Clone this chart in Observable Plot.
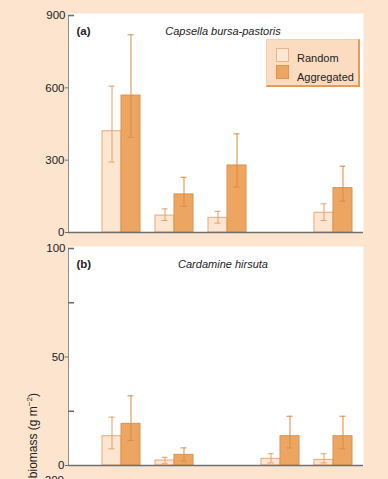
<!DOCTYPE html>
<html>
<head>
<meta charset="utf-8">
<script src="https://cdn.jsdelivr.net/npm/d3@7"></script>
<script src="https://cdn.jsdelivr.net/npm/@observablehq/plot@0.6"></script>
<style>
  html, body { margin: 0; padding: 0; background: #fce4cf; }
  #wrap { position: relative; width: 388px; height: 479px; overflow: hidden; background: #fce4cf;
          font-family: "Liberation Sans", Arial, sans-serif; color: #222; }
  .panel { position: absolute; left: 0; }
  .panel svg { background: transparent !important; overflow: visible; }
  .panel svg g[aria-label^="y-axis"] { font-size: 11.5px !important; }
  .panel svg g[aria-label^="y-axis"] text { font-size: 11.5px !important; fill: #222 !important; }
  .panel svg g[aria-label="y-axis tick"] path, .panel svg g[aria-label="y-axis tick"] { stroke: #6f6f6f; }
  .panel svg [aria-label="y-axis line"] { stroke: #6f6f6f; stroke-width: 1.6; }
  #legend { position: absolute; left: 266px; top: 39px; width: 91px; height: 45px; background: #fbdcc0;
            border-top: 1px solid #f6cfa8; border-left: 1px solid #f6cfa8;
            border-right: 2px solid #e59a55; border-bottom: 2px solid #e59a55; }
  .sw { position: absolute; left: 9px; width: 11px; height: 12px; }
  .lt { position: absolute; left: 30px; font-size: 11px; line-height: 13px; white-space: nowrap; color: #222; }
  #ylab { position: absolute; left: 26px; top: 393px; transform-origin: 0 0;
          transform: rotate(-90deg) translateX(-100%); font-size: 12px; line-height: 14px; white-space: nowrap; color: #222; }
  #ylab sup { font-size: 8px; line-height: 0; }
  #cut { position: absolute; right: 324px; top: 475px; font-size: 11.5px; line-height: 11px; color: #222; }
</style>
</head>
<body>
<div id="wrap">
  <div id="pa" class="panel" style="top:0px"></div>
  <div id="pb" class="panel" style="top:233px"></div>
  <div id="legend">
    <div class="sw" style="top:8px;background:#fde8d5;border:1px solid #eab48a"></div>
    <div class="lt" style="top:12px">Random</div>
    <div class="sw" style="top:25px;background:#eca662;border:1px solid #df9752"></div>
    <div class="lt" style="top:31px">Aggregated</div>
  </div>
  <div id="ylab">biomass (g m<sup>−2</sup>)</div>
  <div id="cut">200</div>
</div>
<script>
// ---- data ----
const groups = [1, 2, 3, 4, 5];
const treatments = ["Random", "Aggregated"];

// (a) Capsella bursa-pastoris
const capsellaRandom    = [420, 70, 61, null, 82];
const capsellaRandomLo  = [292, 50, 39, null, 50];
const capsellaRandomHi  = [607, 98, 88, null, 119];
const capsellaAgg       = [568, 158, 278, null, 184];
const capsellaAggLo     = [395, 109, 188, null, 130];
const capsellaAggHi     = [820, 229, 409, null, 275];

// (b) Cardamine hirsuta
const cardamineRandom   = [13.5, 2.3, null, 3.1, 2.6];
const cardamineRandomLo = [7.7, 0.8, null, 1.2, 1.2];
const cardamineRandomHi = [22.3, 3.8, null, 5.4, 5.4];
const cardamineAgg      = [19.2, 4.9, null, 13.5, 13.5];
const cardamineAggLo    = [11.5, 2.0, null, 8.1, 7.7];
const cardamineAggHi    = [32.1, 8.1, null, 22.7, 22.7];

const ticksA = [0, 300, 600, 900];
const ticksB = [0, 50, 100];
const minorB = [25, 75];

const panelA = { tag: "(a)", title: "Capsella bursa-pastoris", domain: [0, 900] };
const panelB = { tag: "(b)", title: "Cardamine hirsuta", domain: [0, 100] };

// ---- helpers ----
function rows(vals, lo, hi) {
  return groups.map((g, i) => ({ g, v: vals[i], lo: lo[i], hi: hi[i] })).filter(d => d.v != null);
}

const W = 388, ML = 68, MR = 25;
const randFill = "#fde6d1", randStroke = "#eaa872";
const aggFill = "#eca662", aggStroke = "#dc9150";
const errRand = "#e3a06a", errAgg = "#d98c48";

function panel(cfg, rnd, agg, ticks, minor, height, mt, mb) {
  const frameW = W - ML - MR;
  const top = ticks[ticks.length - 1];
  return Plot.plot({
    width: W, height, marginLeft: ML, marginRight: MR, marginTop: mt, marginBottom: mb,
    style: { fontFamily: "'Liberation Sans', Arial, sans-serif", fontSize: "11.5px", color: "#222", background: "transparent" },
    x: { type: "band", domain: groups, range: [94.5, 359.5], paddingInner: 0.283, paddingOuter: 0.1415, axis: null },
    y: { domain: cfg.domain, ticks: ticks.slice(0, -1), tickSize: 3, tickPadding: 1, label: null, line: true },
    marks: [
      Plot.frame({ fill: "white", stroke: null, insetTop: -2 }),
      Plot.barY(rnd, { x: "g", y: "v", insetRight: 19, fill: randFill, stroke: randStroke, strokeWidth: 1 }),
      Plot.barY(agg, { x: "g", y: "v", insetLeft: 19, fill: aggFill, stroke: aggStroke, strokeWidth: 1 }),
      Plot.ruleX(rnd, { x: "g", y1: "lo", y2: "hi", dx: -9.5, stroke: errRand, strokeWidth: 1 }),
      Plot.tickY(rnd, { x: "g", y: "hi", insetLeft: 6.5, insetRight: 25.5, stroke: errRand, strokeWidth: 1 }),
      Plot.tickY(rnd, { x: "g", y: "lo", insetLeft: 6.5, insetRight: 25.5, stroke: errRand, strokeWidth: 1 }),
      Plot.ruleX(agg, { x: "g", y1: "lo", y2: "hi", dx: 9.5, stroke: errAgg, strokeWidth: 1 }),
      Plot.tickY(agg, { x: "g", y: "hi", insetLeft: 25.5, insetRight: 6.5, stroke: errAgg, strokeWidth: 1 }),
      Plot.tickY(agg, { x: "g", y: "lo", insetLeft: 25.5, insetRight: 6.5, stroke: errAgg, strokeWidth: 1 }),
      Plot.tickY([...minor, top], { insetRight: frameW - 6, stroke: "#6f6f6f", strokeWidth: 1.6 }),
      Plot.text([top], { y: d => d, text: d => String(d), frameAnchor: "left", textAnchor: "end", dx: -3, fontSize: 11.5, fill: "#222" }),
      Plot.ruleY([0], { stroke: "#6f6f6f", strokeWidth: 1.6 }),
      Plot.text([cfg.tag], { frameAnchor: "top-left", lineAnchor: "middle", dx: 8, dy: 16, fontWeight: "bold", fontSize: 11.5, textAnchor: "start", fill: "#222" }),
      Plot.text([cfg.title], { frameAnchor: "top", lineAnchor: "middle", dx: 7, dy: 16, fontStyle: "italic", fontSize: 11, fill: "#222" })
    ]
  });
}

document.getElementById("pa").appendChild(
  panel(panelA, rows(capsellaRandom, capsellaRandomLo, capsellaRandomHi),
        rows(capsellaAgg, capsellaAggLo, capsellaAggHi), ticksA, [], 240, 15, 8));
document.getElementById("pb").appendChild(
  panel(panelB, rows(cardamineRandom, cardamineRandomLo, cardamineRandomHi),
        rows(cardamineAgg, cardamineAggLo, cardamineAggHi), ticksB, minorB, 246, 15, 14));
</script>
</body>
</html>
